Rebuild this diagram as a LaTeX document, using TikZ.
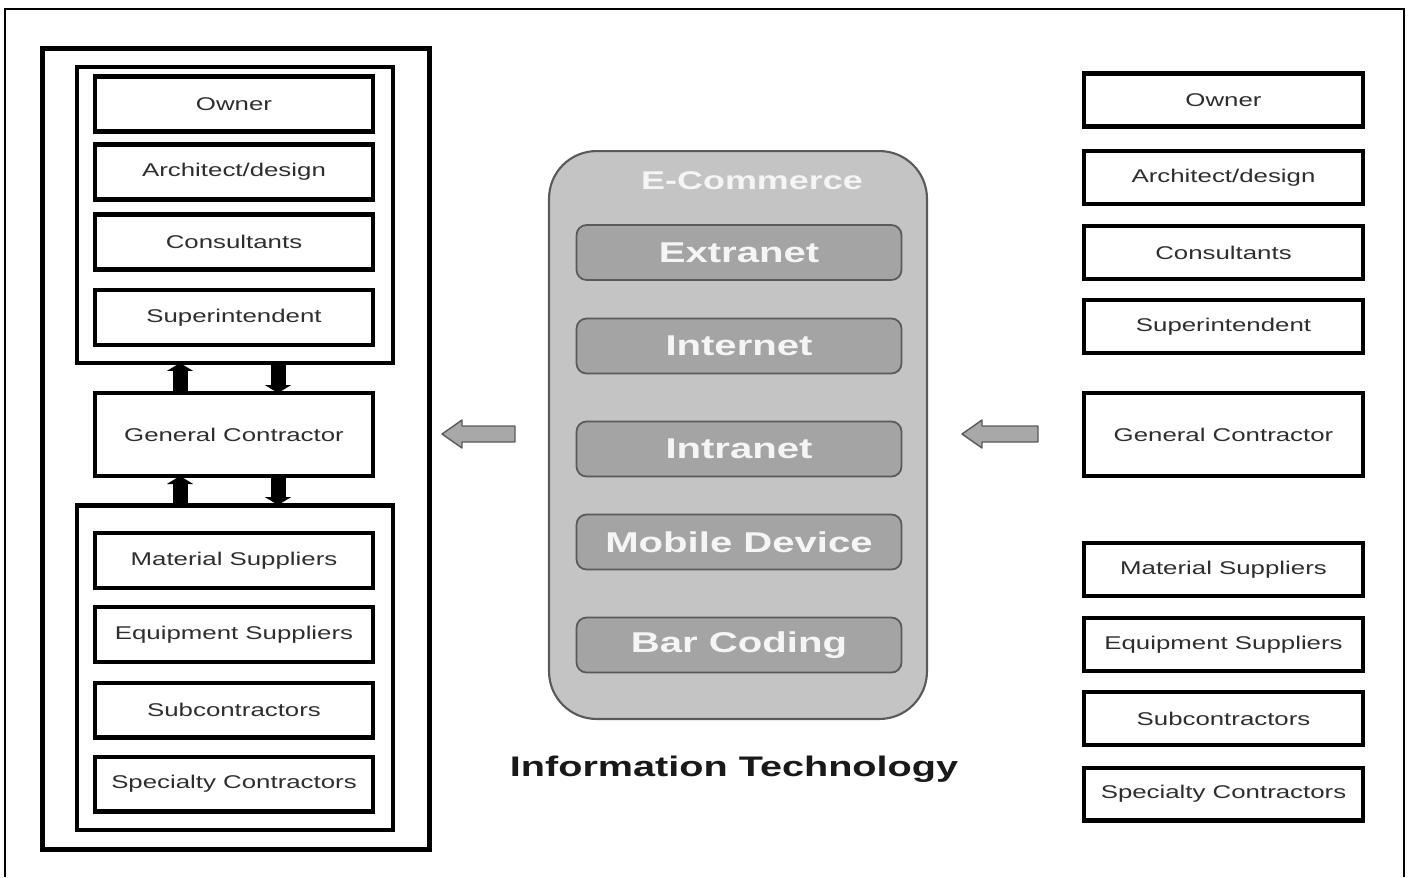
\documentclass[tikz,border=0pt]{standalone}
\usepackage{fontspec}
\setmainfont{Liberation Sans}[FakeStretch=1.4]
\usetikzlibrary{arrows.meta}
\definecolor{txtgray}{HTML}{2E2E2E}
\definecolor{panelgray}{HTML}{C4C4C4}
\definecolor{itemgray}{HTML}{A4A4A4}
\definecolor{edgegray}{HTML}{5A5A5A}
\definecolor{arrowgray}{HTML}{A8A8A8}
\begin{document}
\begin{tikzpicture}[x=0.02cm,y=-0.02cm,outer sep=0pt,inner sep=0pt]
	\tikzstyle{role_style} = [draw=black, line width=2.3pt, minimum width=5.56cm, minimum height=1.1cm, font=\fontsize{10.5}{12}\selectfont, text=txtgray]
	\tikzstyle{group_style} = [draw=black, line width=2.8pt, minimum width=6.32cm]
	\tikzstyle{item_style} = [draw=edgegray, fill=itemgray, line width=1pt, rounded corners=0.2cm, minimum width=6.5cm, minimum height=1.1cm, font=\fontsize{16.3}{18}\selectfont\bfseries, text=white!96!black]
	\tikzstyle{blk_arrow} = [line width=0.3cm, -{Triangle[length=0.16cm,width=0.52cm]}]
	\tikzstyle{gray_arrow} = [draw=edgegray, fill=arrowgray, line width=0.8pt, line join=round]
	\useasboundingbox (0,0) rectangle (1408,877);
	\draw[line width=1pt] (5,877) -- (5,9) -- (1404,9) -- (1404,877);
	%%% left column
	\path (236,449) node[draw=black, line width=2.8pt, minimum width=7.74cm, minimum height=16.02cm] (outerL) {};
	\path (235,215) node[group_style, minimum height=5.92cm] (upper) {};
	\path (235,667.5) node[group_style, minimum height=6.5cm] (lower) {};
	\foreach[count=\i] \y/\t in {104/Owner,172/{Architect/design},242/Consultants,317.5/Superintendent}{
		\path (234,\y) node[role_style] (LU-\i) {\t};
	}
	\foreach[count=\i] \y/\t in {560.5/Material Suppliers,634.5/Equipment Suppliers,710/Subcontractors,784/Specialty Contractors}{
		\path (234,\y) node[role_style] (LL-\i) {\t};
	}
	\path (234,434.5) node[role_style, minimum height=1.66cm] (gcL) {General Contractor};
	\coordinate (xu) at (180,0);
	\coordinate (xd) at (278,0);
	\draw[blk_arrow] (gcL.north -| xu) -- (upper.south -| xu);
	\draw[blk_arrow] (upper.south -| xd) -- (gcL.north -| xd);
	\draw[blk_arrow] (lower.north -| xu) -- (gcL.south -| xu);
	\draw[blk_arrow] (gcL.south -| xd) -- (lower.north -| xd);
	%%% middle panel
	\path (738,435) node[draw=edgegray, fill=panelgray, line width=1.2pt, rounded corners=0.95cm, minimum width=7.56cm, minimum height=11.36cm] (ecom) {};
	\path (752,181) node[font=\fontsize{14.6}{17}\selectfont\bfseries, text=white!96!black] (ecomT) {E-Commerce};
	\foreach[count=\i] \y/\t in {252.5/Extranet,346/Internet,449/Intranet,542/Mobile Device,645/Bar Coding}{
		\path (739,\y) node[item_style] (IT-\i) {\t};
	}
	\path (734,769) node[font=\fontsize{16.1}{18}\selectfont\bfseries, text=black!90] (itT) {Information Technology};
	%%% gray arrows
	\coordinate (tipL) at (442,434);
	\coordinate (tipR) at (962,434);
	\foreach \p/\l in {tipL/73,tipR/76}{
		\draw[gray_arrow] (\p) -- ++(20,-14) -- ++(0,6) -- ++(\l-20,0) -- ++(0,16) -- ++(20-\l,0) -- ++(0,6) -- cycle;
	}
	%%% right column
	\foreach[count=\i] \y/\t in {100/Owner,177.5/{Architect/design},252.5/Consultants,326.5/Superintendent,569.5/Material Suppliers,644.5/Equipment Suppliers,718.5/Subcontractors,794/Specialty Contractors}{
		\path (1223.5,\y) node[role_style, minimum width=5.58cm, minimum height=1.06cm] (R-\i) {\t};
	}
	\path (1223.5,434.5) node[role_style, minimum width=5.58cm, minimum height=1.66cm] (gcR) {General Contractor};
\end{tikzpicture}
\end{document}
